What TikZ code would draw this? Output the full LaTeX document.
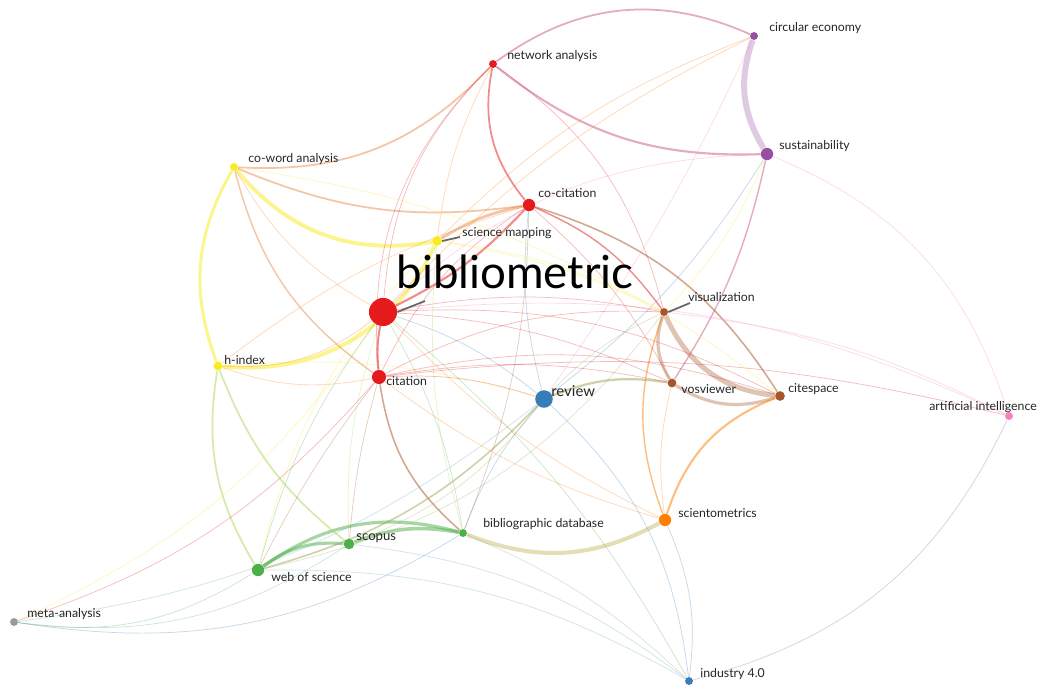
\documentclass[tikz,border=0pt]{standalone}
\usepackage{fontspec}
\setmainfont{Lato}
\usetikzlibrary{positioning}
\definecolor{kred}{RGB}{228,26,28}
\definecolor{kyellow}{RGB}{248,236,30}
\definecolor{kpurple}{RGB}{152,78,163}
\definecolor{kbrown}{RGB}{166,86,40}
\definecolor{korange}{RGB}{255,127,0}
\definecolor{kblue}{RGB}{55,126,184}
\definecolor{kgreen}{RGB}{77,175,74}
\definecolor{kpink}{RGB}{247,129,191}
\definecolor{kgray}{RGB}{153,153,153}
\definecolor{kolive}{RGB}{160,165,90}
\definecolor{kkhaki}{RGB}{200,190,110}
\definecolor{klime}{RGB}{175,215,90}
\definecolor{kteal}{RGB}{90,165,170}
\definecolor{kmauve}{RGB}{200,90,130}
\definecolor{ksalmon}{RGB}{235,140,80}
\pgfdeclarelayer{edges}
\pgfsetlayers{edges,main}

\begin{document}
\begin{tikzpicture}[x=0.02cm, y=-0.02cm,
  kw/.style={circle, inner sep=0pt, minimum size=#1},
  lbl/.style={anchor=west, inner sep=0pt, font=\fontsize{7}{8}\selectfont, text=black!85},
  lnk/.style={line width=0.4pt, opacity=0.3},
  strong/.style={opacity=0.5},
  leader/.style={draw=black!60, line width=1pt}]
  \useasboundingbox (0,0) rectangle (1057,687);

  % keywords
  \node[kw=16pt, fill=kred]    (biblio)  at (383,312) {};
  \node[kw=10pt, fill=kblue]   (review)  at (544,399) {};
  \node[kw=8pt, fill=kred]     (citation) at (379,377) {};
  \node[kw=7pt, fill=kred]     (cocit)   at (529,205) {};
  \node[kw=4.5pt, fill=kred]   (netana)  at (493,64) {};
  \node[kw=4.5pt, fill=kpurple] (circeco) at (754,36) {};
  \node[kw=7pt, fill=kpurple]  (sustain) at (767,154) {};
  \node[kw=4.5pt, fill=kyellow] (coword) at (234,167) {};
  \node[kw=5.5pt, fill=kyellow] (scimap) at (437,241) {};
  \node[kw=5pt, fill=kyellow]  (hindex)  at (218,366) {};
  \node[kw=4.5pt, fill=kbrown] (visual)  at (664,312) {};
  \node[kw=5pt, fill=kbrown]   (vosv)    at (672,383) {};
  \node[kw=5.5pt, fill=kbrown] (citesp)  at (780,396) {};
  \node[kw=4.5pt, fill=kpink]  (ai)      at (1009,416) {};
  \node[kw=7pt, fill=korange]  (scient)  at (665,520) {};
  \node[kw=4.5pt, fill=kgreen] (bibdb)   at (463,533) {};
  \node[kw=6pt, fill=kgreen]   (scopus)  at (349,544) {};
  \node[kw=7pt, fill=kgreen]   (wos)     at (258,570) {};
  \node[kw=4.5pt, fill=kgray]  (meta)    at (14,622) {};
  \node[kw=4.5pt, fill=kblue]  (ind)     at (689,681) {};

  % labels
  \node[lbl] (t-circeco) at (769,28) {circular economy};
  \node[lbl] (t-netana)  at (507,56) {network analysis};
  \node[lbl] (t-sustain) at (779,146) {sustainability};
  \node[lbl] (t-coword)  at (248,159) {co-word analysis};
  \node[lbl] (t-cocit)   at (538,193) {co-citation};
  \node[lbl] (t-scimap)  at (462,233) {science mapping};
  \node[lbl] (t-visual)  at (688,297) {visualization};
  \node[lbl] (t-hindex)  at (224,360) {h-index};
  \node[lbl] (t-citation) at (386,381) {citation};
  \node[lbl, font=\fontsize{8.5}{9}\selectfont] (t-review) at (551,391) {review};
  \node[lbl] (t-vosv)    at (681,389) {vosviewer};
  \node[lbl] (t-citesp)  at (788,389) {citespace};
  \node[lbl] (t-ai)      at (929,407) {artificial intelligence};
  \node[lbl] (t-scient)  at (678,513) {scientometrics};
  \node[lbl] (t-bibdb)   at (483,524) {bibliographic database};
  \node[lbl, font=\fontsize{7.5}{8}\selectfont] (t-scopus) at (356,538) {scopus};
  \node[lbl] (t-wos)     at (271,577) {web of science};
  \node[lbl] (t-meta)    at (27,614) {meta-analysis};
  \node[lbl] (t-ind)     at (700,674) {industry 4.0};
  \node[inner sep=0pt, font=\fontsize{26}{28}\selectfont, text=black] (t-biblio) at (515,272) {bibliometric};

  % leader lines
  \draw[leader] (biblio.east) -- (425,301);
  \draw[leader] (scimap.east) -- (460,237);
  \draw[leader] (visual.east) -- (690,303);

  \begin{pgfonlayer}{edges}
    \fill[white] (0,0) rectangle (1057,687);
    % strong links
    \draw[strong, kpurple!60, line width=3.4pt] (circeco) to[bend right=25] (sustain);
    \draw[strong, kyellow, line width=2.2pt] (hindex) to[bend right=35] (scimap);
    \draw[strong, kyellow, line width=2.2pt] (coword) to[bend right=30] (scimap);
    \draw[strong, kyellow, line width=1.7pt] (coword) to[bend right=25] (hindex);
    \draw[strong, kbrown!70, line width=2.8pt] (visual) to[bend right=30] (citesp);
    \draw[strong, kbrown!70, line width=1.8pt] (visual) to[bend right=25] (vosv);
    \draw[strong, kbrown!70, line width=1.8pt] (vosv) to[bend right=25] (citesp);
    \draw[strong, korange, line width=1.2pt] (citesp) to[bend right=25] (scient);
    \draw[strong, korange, line width=0.8pt] (visual) to[bend right=20] (scient);
    \draw[strong, kkhaki, line width=2.3pt] (bibdb) to[bend right=25] (scient);
    \draw[strong, kolive, line width=1.3pt] (review) to[bend left=15] (vosv);
    \draw[strong, kgreen, line width=1.8pt] (wos) to[bend left=25] (bibdb);
    \draw[strong, kgreen, line width=2pt] (scopus) to[bend left=15] (bibdb);
    \draw[strong, kgreen, line width=1.8pt] (wos) to[bend left=20] (scopus);
    \draw[strong, kmauve, line width=1.2pt] (netana) to[bend right=20] (sustain);
    \draw[strong, kmauve, line width=1pt] (netana) to[bend left=30] (circeco);
    \draw[strong, kred, line width=1pt] (netana) to[bend right=25] (cocit);
    \draw[strong, ksalmon, line width=1.6pt] (cocit) to[bend right=10] (scimap);
    \draw[strong, kred, line width=1.2pt] (biblio) to[bend right=8] (citation);
    \draw[strong, kred, line width=1.2pt] (cocit) to[bend left=10] (biblio);
    \draw[strong, kbrown, line width=0.9pt] (cocit) to[bend left=20] (citesp);
    \draw[strong, kred, line width=0.8pt] (cocit) to[bend left=15] (visual);
    \draw[strong, ksalmon, line width=1pt] (coword) to[bend right=25] (netana);
    \draw[strong, ksalmon, line width=1pt] (coword) to[bend right=15] (cocit);
    \draw[strong, ksalmon, line width=0.8pt] (coword) to[bend right=20] (citation);
    \draw[strong, klime, line width=1pt] (hindex) to[bend right=20] (wos);
    \draw[strong, klime, line width=1pt] (hindex) to[bend right=15] (scopus);
    \draw[strong, kbrown, line width=0.9pt] (citation) to[bend right=20] (bibdb);
    \draw[strong, kmauve, line width=0.8pt] (sustain) to[bend left=10] (vosv);
    \draw[strong, kolive, line width=0.9pt] (review) to[bend left=15] (wos);
    % weak links
    \foreach \a/\b/\c/\bd in {
      netana/citation/kred/25, netana/visual/kred/-20, netana/biblio/kred/20,
      netana/scimap/korange/10, circeco/biblio/korange/10, circeco/scimap/korange/12,
      circeco/review/kpink/-5, sustain/review/kblue/-10, sustain/biblio/kpink/20,
      sustain/ai/kpink/-25, sustain/visual/kyellow/-10, ai/ind/kpurple/-25,
      ai/biblio/kpink/15, ai/citation/kred/10, ai/visual/kpink/10,
      ind/scient/kblue/15, ind/review/kblue/20, ind/wos/kteal/15,
      ind/scopus/kteal/15, ind/biblio/kgreen/10, ind/bibdb/kgray/10,
      meta/wos/kgreen/20, meta/scopus/kteal/20, meta/bibdb/kblue/20,
      meta/citation/kred/15, meta/biblio/kyellow/15, meta/review/kteal/15,
      review/scopus/kolive/-15, review/biblio/kblue/10, review/citation/kred/10,
      review/cocit/kblue/-10, review/visual/kolive/-10, review/hindex/kyellow/10,
      review/bibdb/kblue/10, citation/scopus/kbrown/5, citation/wos/kbrown/5,
      citation/visual/kred/-15, citation/citesp/kred/-15, citation/vosv/kred/-10,
      citation/scient/korange/10, cocit/vosv/kred/-10, cocit/citation/kred/15,
      cocit/hindex/korange/10, coword/biblio/korange/15, coword/visual/kyellow/-10,
      biblio/visual/kred/-10, biblio/vosv/kred/-10, biblio/citesp/kred/-15,
      biblio/scient/korange/10, biblio/wos/kgreen/10, biblio/scopus/klime/10,
      biblio/bibdb/kgreen/-10, hindex/citation/korange/15, vosv/scient/korange/10,
      hindex/biblio/korange/20, scimap/visual/kyellow/-10, scimap/citesp/kyellow/-15,
      scimap/bibdb/klime/10, scimap/wos/kyellow/15, cocit/bibdb/kbrown/-10,
      visual/wos/kolive/-20}
      \draw[lnk, \c] (\a) to[bend right=\bd] (\b);
  \end{pgfonlayer}
\end{tikzpicture}
\end{document}
